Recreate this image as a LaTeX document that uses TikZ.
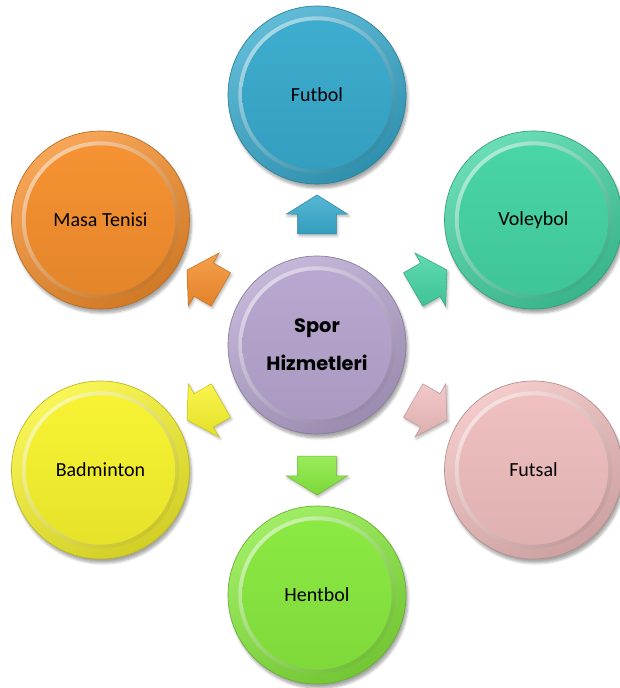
\documentclass[tikz,border=0pt]{standalone}
\usepackage{fontspec}
\setmainfont{Carlito}
\newfontfamily\gothicfont{Poppins}
\usetikzlibrary{shapes.arrows, shadows.blur}

\definecolor{futbolblue}{RGB}{56,170,205}
\definecolor{voleygreen}{RGB}{68,212,163}
\definecolor{futsalpink}{RGB}{240,190,190}
\definecolor{hentgreen}{RGB}{136,233,62}
\definecolor{badyellow}{RGB}{247,243,45}
\definecolor{masaorange}{RGB}{245,143,45}
\definecolor{sporlilac}{RGB}{182,165,207}

\begin{document}
\begin{tikzpicture}[
        x=0.75pt, y=0.75pt,
        disc/.style={
            circle,
            inner sep=0pt,
            minimum size=133.5pt,
            draw=#1!75!black,
            line width=0.5pt,
            top color=#1!80!white,
            bottom color=#1!85!black,
            shading angle=30,
            blur shadow={shadow xshift=1.5pt, shadow yshift=-3pt, shadow blur steps=6, shadow opacity=35},
            path picture={
                \shade[top color=#1!40!white, bottom color=#1!80!black, shading angle=40]
                    (path picture bounding box.center) circle[radius=59pt];
                \shade[top color=#1!97!white, bottom color=#1!93!black]
                    (path picture bounding box.center) circle[radius=56pt];
            },
            font=\fontsize{15pt}{18pt}\selectfont,
            text=black
        },
        hubdisc/.style={
            disc=sporlilac,
            align=center,
            font=\gothicfont\bfseries\fontsize{14.5pt}{28.5pt}\selectfont
        },
        spoke/.style={
            single arrow,
            inner xsep=0pt,
            inner ysep=14.25pt,
            minimum height=29.25pt,
            minimum width=45.75pt,
            single arrow head extend=8.6pt,
            single arrow tip angle=116,
            draw=#1!80!black,
            line width=0.4pt,
            top color=#1!85!white,
            bottom color=#1!92!black,
            blur shadow={shadow xshift=1pt, shadow yshift=-1.5pt, shadow blur steps=4, shadow opacity=30}
        }
    ]

    \useasboundingbox (-317,-343) rectangle (302,345);

    % centre
    \node[hubdisc] (hub) at (0,0) {Spor\\Hizmetleri};

    % outer ring of sports
    \node[disc=futbolblue] (futbol)     at (90:250)  {Futbol};
    \node[disc=voleygreen] (voleybol)   at (30:250)  {Voleybol};
    \node[disc=futsalpink] (futsal)     at (-30:250) {Futsal};
    \node[disc=hentgreen]  (hentbol)    at (-90:250) {Hentbol};
    \node[disc=badyellow]  (badminton)  at (210:250) {Badminton};
    \node[disc=masaorange] (masatenisi) at (150:250) {Masa Tenisi};

    % block arrows pointing outwards
    \node[spoke=futbolblue, rotate=90]  (tofutbol)     at (90:124.5)  {};
    \node[spoke=voleygreen, rotate=30]  (tovoleybol)   at (30:124.5)  {};
    \node[spoke=futsalpink, rotate=-30] (tofutsal)     at (-30:124.5) {};
    \node[spoke=hentgreen,  rotate=-90] (tohentbol)    at (-90:124.5) {};
    \node[spoke=badyellow,  rotate=210] (tobadminton)  at (210:124.5) {};
    \node[spoke=masaorange, rotate=150] (tomasatenisi) at (150:124.5) {};

\end{tikzpicture}
\end{document}
